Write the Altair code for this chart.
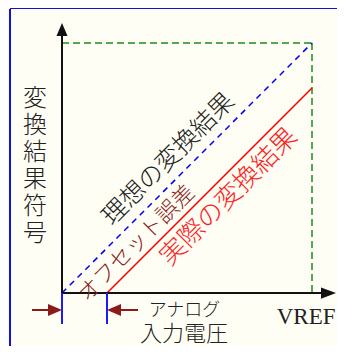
import altair as alt
import pandas as pd

# ---- data (in chart units: input voltage 0..VREF=1, code 0..full=1) ----
offset = 0.18
ideal_x = [0.0, 1.0]
ideal_y = [0.0, 1.0]
actual_x = [offset, 1.0]
actual_y = [0.0, 1.0 - offset]
fullscale_x = [0.0, 1.0, 1.0]
fullscale_y = [1.0, 1.0, 0.0]

labels_text = ["理想の変換結果", "オフセット誤差", "実際の変換結果"]
labels_x = [0.426, 0.299, 0.668]
labels_y = [0.536, 0.199, 0.384]

W, H = 327, 337
XD = [-0.208, 1.1]
YD = [-0.212, 1.136]
FONT_JP = "Noto Sans CJK JP"
FW = 300

xs = alt.Scale(domain=XD, nice=False, zero=False)
ys = alt.Scale(domain=YD, nice=False, zero=False)


def X(f="x"):
    return alt.X(f"{f}:Q", scale=xs, axis=None)


def Y(f="y"):
    return alt.Y(f"{f}:Q", scale=ys, axis=None)


def seg(x, y, x2, y2):
    return pd.DataFrame({"x": x, "y": y, "x2": x2, "y2": y2})


# frame (left and top edges)
frame_left = alt.Chart(pd.DataFrame({"a": [0]})).mark_rule(color="#1010e0", strokeWidth=2).encode(
    x=alt.value(0), y=alt.value(0), y2=alt.value(H))
frame_top = alt.Chart(pd.DataFrame({"a": [0]})).mark_rule(color="#1010e0", strokeWidth=2).encode(
    x=alt.value(0), x2=alt.value(W), y=alt.value(-1))

# green full-scale dashed box
green = alt.Chart(seg(fullscale_x[:2], fullscale_y[:2], fullscale_x[1:], fullscale_y[1:])).mark_rule(
    color="#1f8a1f", strokeWidth=1.5, strokeDash=[7, 4]).encode(
    x=X(), y=Y(), x2="x2:Q", y2="y2:Q")

# ideal (blue dashed)
ideal = alt.Chart(seg([ideal_x[0]], [ideal_y[0]], [ideal_x[1]], [ideal_y[1]])).mark_rule(
    color="#0000ff", strokeWidth=1.5, strokeDash=[6, 5]).encode(
    x=X(), y=Y(), x2="x2:Q", y2="y2:Q")

# actual (red)
actual = alt.Chart(seg([actual_x[0]], [actual_y[0]], [actual_x[1]], [actual_y[1]])).mark_rule(
    color="#ff0000", strokeWidth=1.6).encode(
    x=X(), y=Y(), x2="x2:Q", y2="y2:Q")

# axes
axes = alt.Chart(seg([0.0, 0.0], [0.0, 0.0], [0.0, 1.07], [1.06, 0.0])).mark_rule(
    color="#111111", strokeWidth=2).encode(
    x=X(), y=Y(), x2="x2:Q", y2="y2:Q")

y_head = alt.Chart(pd.DataFrame({"x": [0.0], "y": [1.054]})).mark_point(
    shape="M0,-1L-0.85,1L0.85,1Z", size=169, filled=True, color="#111111", opacity=1).encode(x=X(), y=Y())
x_head = alt.Chart(pd.DataFrame({"x": [1.066], "y": [0.0]})).mark_point(
    shape="M1,0L-1,-0.75L-1,0.75Z", size=225, filled=True, color="#111111", opacity=1).encode(x=X(), y=Y())

# blue ticks marking offset
ticks = alt.Chart(seg([0.0, offset], [0.0, 0.0], [0.0, offset], [-0.124, -0.124])).mark_rule(
    color="#1a1aff", strokeWidth=2).encode(
    x=X(), y=Y(), x2="x2:Q", y2="y2:Q")

# dark red dimension arrows
DR = "#8b1a1a"
arr_y = -0.068
shafts = alt.Chart(seg([-0.12, 0.208], [arr_y, arr_y], [-0.028, 0.304], [arr_y, arr_y])).mark_rule(
    color=DR, strokeWidth=2).encode(
    x=X(), y=Y(), x2="x2:Q", y2="y2:Q")
head_r = alt.Chart(pd.DataFrame({"x": [-0.028], "y": [arr_y]})).mark_point(
    shape="M1,0L-1,-0.85L-1,0.85Z", size=196, filled=True, color=DR, opacity=1).encode(x=X(), y=Y())
head_l = alt.Chart(pd.DataFrame({"x": [0.208], "y": [arr_y]})).mark_point(
    shape="M-1,0L1,-0.85L1,0.85Z", size=196, filled=True, color=DR, opacity=1).encode(x=X(), y=Y())

# rotated labels
lab_df = pd.DataFrame({"x": labels_x, "y": labels_y, "t": labels_text})
lab1 = alt.Chart(lab_df.iloc[[0]]).mark_text(
    font=FONT_JP, fontSize=25, fontWeight=FW, angle=315, color="#222222", align="center", baseline="middle").encode(
    x=X(), y=Y(), text="t:N")
lab2 = alt.Chart(lab_df.iloc[[1]]).mark_text(
    font=FONT_JP, fontSize=22, fontWeight=FW, angle=315, color=DR, align="center", baseline="middle").encode(
    x=X(), y=Y(), text="t:N")
lab3 = alt.Chart(lab_df.iloc[[2]]).mark_text(
    font=FONT_JP, fontSize=26, fontWeight=FW, angle=315, color="#ff2020", align="center", baseline="middle").encode(
    x=X(), y=Y(), text="t:N")

# axis texts
t_analog = alt.Chart(pd.DataFrame({"x": [0.49], "y": [-0.072], "t": ["アナログ"]})).mark_text(
    font=FONT_JP, fontSize=18, fontWeight=FW, color="#222222", baseline="middle").encode(x=X(), y=Y(), text="t:N")
t_vref = alt.Chart(pd.DataFrame({"x": [1.094], "y": [-0.094], "t": ["VREF"]})).mark_text(
    font="Liberation Serif", fontSize=23, color="#222222", align="right", baseline="middle").encode(
    x=X(), y=Y(), text="t:N")
t_input = alt.Chart(pd.DataFrame({"x": [0.488], "y": [-0.162], "t": ["入力電圧"]})).mark_text(
    font=FONT_JP, fontSize=22, fontWeight=FW, color="#222222", baseline="middle").encode(x=X(), y=Y(), text="t:N")
t_ylab = alt.Chart(pd.DataFrame({"x": [-0.108], "y": [0.776]})).mark_text(
    font=FONT_JP, fontSize=24, fontWeight=FW, lineHeight=27, color="#222222", baseline="middle").encode(
    x=X(), y=Y(), text=alt.value(["変", "換", "結", "果", "符", "号"]))

chart = alt.layer(
    green, ideal, actual, axes, y_head, x_head, ticks, shafts, head_r, head_l,
    lab1, lab2, lab3, t_analog, t_vref, t_input, t_ylab, frame_left, frame_top
).properties(
    width=W, height=H,
    padding={"left": 2, "top": 1, "right": 0, "bottom": 0},
    autosize=alt.AutoSizeParams(type="none"),
    background="#fefef5",
).configure_view(stroke=None)

chart.save("out.html", embed_options={"renderer": "svg", "actions": False})
